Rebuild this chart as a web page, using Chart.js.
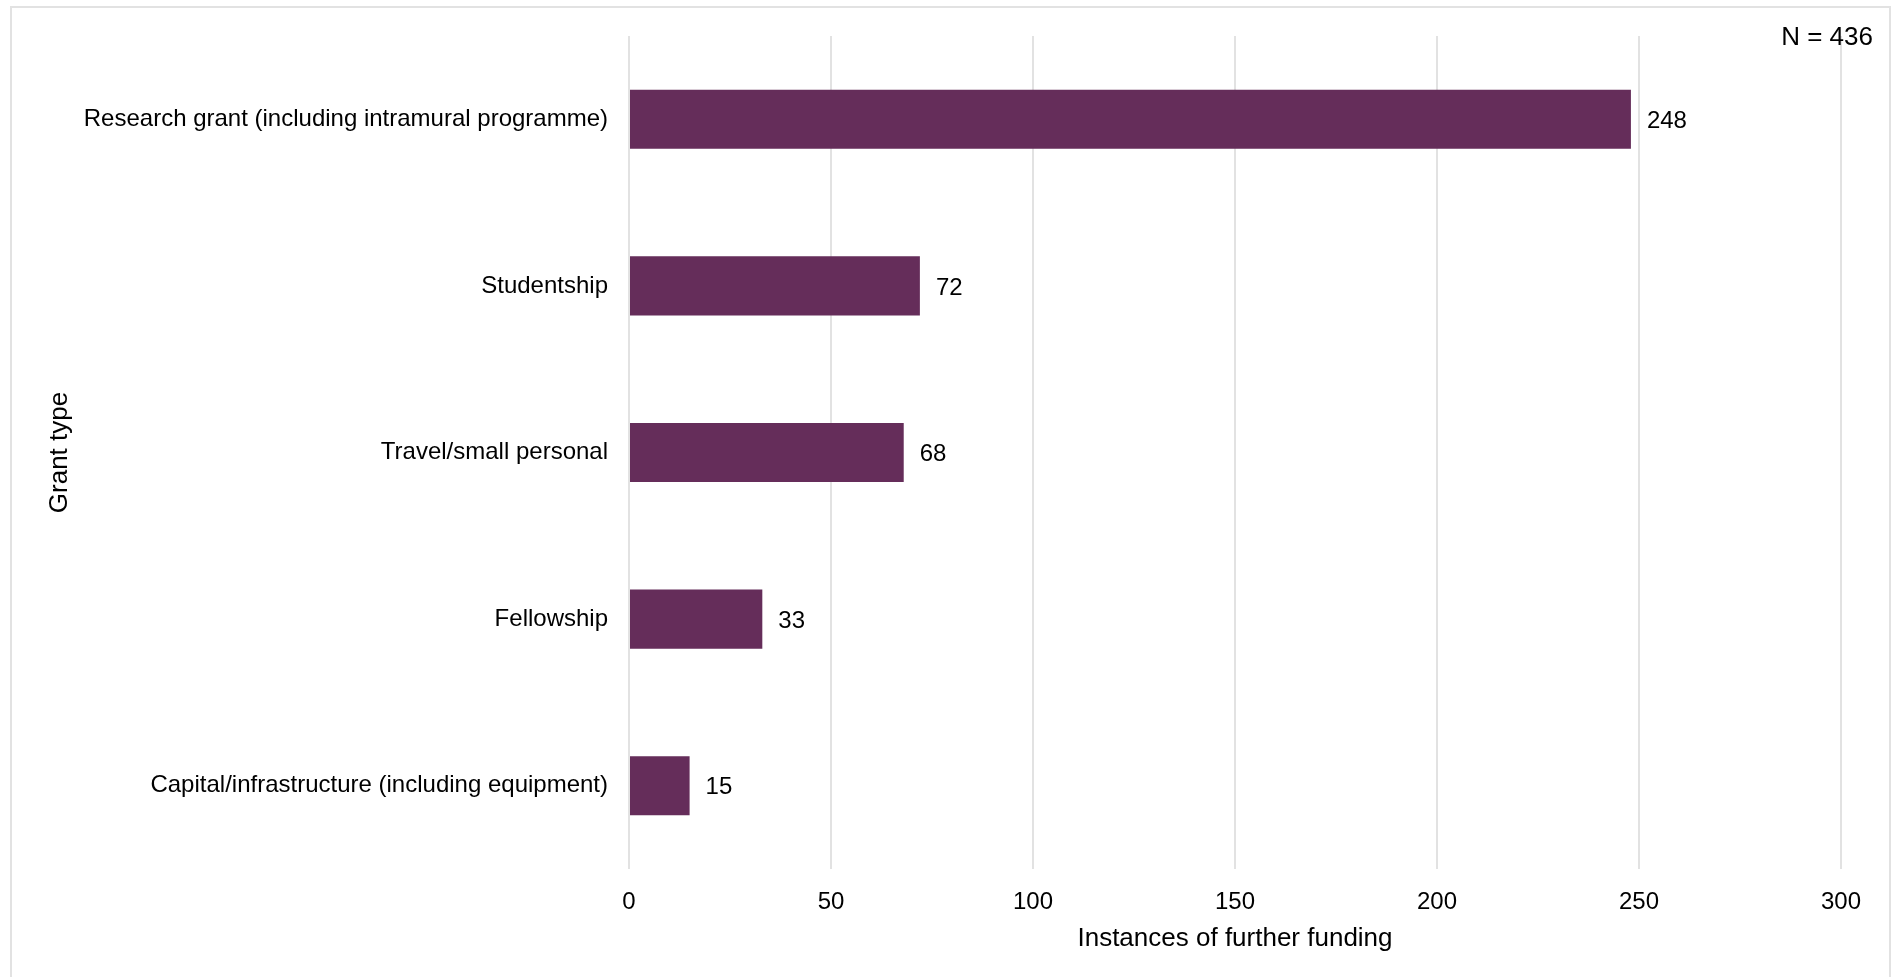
<!DOCTYPE html>
<html>
<head>
<meta charset="utf-8">
<title>Further funding by grant type</title>
<script src="https://cdn.jsdelivr.net/npm/chart.js@4"></script>
<style>
  body { margin: 0; background: #fff; overflow: hidden; }
  #frame {
    position: absolute; left: 10px; top: 6px;
    width: 1881px; height: 990px;
    border: 2px solid #e2e2e2; box-sizing: border-box;
  }
  #grant_chart { position: absolute; left: 0; top: 0; }
</style>
</head>
<body>
<div id="frame"></div>
<canvas id="grant_chart" width="1897" height="977"></canvas>
<script>
// chart data
const grantTypes = [
    'Research grant (including intramural programme)',
    'Studentship',
    'Travel/small personal',
    'Fellowship',
    'Capital/infrastructure (including equipment)'
];
const fundingCounts = [248, 72, 68, 33, 15];
const xTicks = [0, 50, 100, 150, 200, 250, 300];
const sampleNote = 'N = 436';

const barColour = '#652d5a';
const fontName = '"Liberation Sans", Arial, sans-serif';

// value labels next to the bar ends + the N note in the corner
const valueLabels = {
    id: 'valueLabels',
    afterDatasetsDraw(chart) {
        const ctx = chart.ctx;
        const meta = chart.getDatasetMeta(0);
        ctx.save();
        ctx.fillStyle = '#000';
        ctx.font = '24px ' + fontName;
        ctx.textAlign = 'left';
        ctx.textBaseline = 'middle';
        meta.data.forEach(function (bar, i) {
            ctx.fillText(fundingCounts[i], bar.x + 16, bar.y + 2);
        });
        ctx.font = '26px ' + fontName;
        ctx.textAlign = 'right';
        ctx.fillText(sampleNote, chart.width - 24, 38);
        ctx.restore();
    }
};

const ctx = document.getElementById('grant_chart').getContext('2d');
const grant_chart = new Chart(ctx, {
    type: 'bar',
    data: {
        labels: grantTypes,
        datasets: [{
            label: 'Instances of further funding',
            data: fundingCounts,
            backgroundColor: barColour,
            borderWidth: 0,
            barPercentage: 0.355,
            categoryPercentage: 1.0
        }]
    },
    options: {
        indexAxis: 'y',
        responsive: false,
        animation: false,
        layout: {
            padding: { top: 36, right: 56, left: 0, bottom: 0 }
        },
        plugins: {
            legend: { display: false },
            tooltip: { enabled: false }
        },
        scales: {
            x: {
                min: 0,
                max: 300,
                afterBuildTicks(scale) {
                    scale.ticks = xTicks.map(v => ({ value: v }));
                },
                afterFit(scale) {
                    scale.height = 108;
                },
                grid: {
                    color: '#e2e2e2',
                    lineWidth: 2,
                    drawTicks: false
                },
                border: { display: false },
                ticks: {
                    color: '#000',
                    padding: 19,
                    font: { family: fontName, size: 24 }
                },
                title: {
                    display: true,
                    text: 'Instances of further funding',
                    color: '#000',
                    font: { family: fontName, size: 26 },
                    padding: { top: 0, bottom: 23 }
                }
            },
            y: {
                afterFit(scale) {
                    scale.width = 629;
                },
                grid: { display: false, drawTicks: false },
                border: { display: false },
                ticks: {
                    color: '#000',
                    padding: 21,
                    font: { family: fontName, size: 24 }
                },
                title: {
                    display: true,
                    text: 'Grant type',
                    color: '#000',
                    font: { family: fontName, size: 26 },
                    padding: { top: 44, bottom: 0 }
                }
            }
        }
    },
    plugins: [valueLabels]
});
</script>
</body>
</html>
